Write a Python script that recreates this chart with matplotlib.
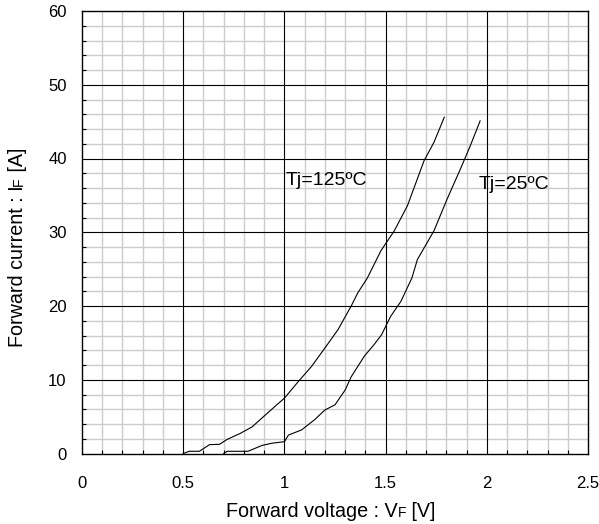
import matplotlib
matplotlib.use("Agg")
import matplotlib.pyplot as plt
from matplotlib.ticker import MultipleLocator, FixedLocator

plt.rcParams['font.family'] = ['Liberation Sans', 'DejaVu Sans']

# Data
v125 = [0.50, 0.53, 0.58, 0.63, 0.68, 0.716, 0.78, 0.84, 0.905, 0.954, 1.00,
        1.07, 1.134, 1.20, 1.265, 1.33, 1.363, 1.41, 1.477, 1.543, 1.608,
        1.69, 1.739, 1.79]
i125 = [0.0, 0.3, 0.3, 1.2, 1.25, 1.9, 2.7, 3.6, 5.2, 6.4, 7.5,
        9.8, 11.8, 14.3, 16.8, 20.0, 21.8, 23.8, 27.5, 30.2, 33.6,
        39.7, 42.2, 45.6]
v25 = [0.70, 0.717, 0.82, 0.89, 0.94, 1.00, 1.02, 1.085, 1.15, 1.20, 1.25,
       1.30, 1.33, 1.395, 1.444, 1.48, 1.525, 1.575, 1.63, 1.657, 1.739,
       1.804, 1.87, 1.918, 1.967]
i25 = [0.0, 0.3, 0.3, 1.1, 1.4, 1.6, 2.5, 3.2, 4.6, 5.9, 6.6,
       8.6, 10.4, 13.2, 14.8, 16.1, 18.6, 20.6, 23.8, 26.3, 30.2,
       34.5, 38.6, 41.7, 45.1]
xticks = [0, 0.5, 1, 1.5, 2, 2.5]
xticklabels = ["0", "0.5", "1", "1.5", "2", "2.5"]
yticks = [0, 10, 20, 30, 40, 50, 60]
yticklabels = ["0", "10", "20", "30", "40", "50", "60"]
labels = ["Tj=125ºC", "Tj=25ºC"]
label_pos = [(1.005, 36.4), (1.96, 35.9)]

fig = plt.figure(figsize=(5.99, 5.24), dpi=100)
ax = fig.add_axes([82/599, (524-453.5)/524, (588-82)/599, (453.5-11)/524])

ax.set_xlim(0, 2.5)
ax.set_ylim(0, 60)
ax.xaxis.set_major_locator(FixedLocator(xticks))
ax.yaxis.set_major_locator(FixedLocator(yticks))
ax.set_xticklabels(xticklabels)
ax.set_yticklabels(yticklabels)
ax.xaxis.set_minor_locator(MultipleLocator(0.1))
ax.yaxis.set_minor_locator(MultipleLocator(2))

# minor grid through the axis, major grid drawn on top
ax.grid(which='minor', color='#cccccc', linewidth=1.0)
ax.set_axisbelow(True)
for x in xticks[1:-1]:
    ax.axvline(x, color='black', linewidth=0.8, zorder=2)
for y in yticks[1:-1]:
    ax.axhline(y, color='black', linewidth=0.8, zorder=2)

ax.tick_params(which='both', direction='in', top=False, right=False,
               labelsize=12, colors='black')
ax.tick_params(axis='x', which='major', length=0, pad=16)
ax.tick_params(axis='y', which='major', length=0, pad=11)
ax.tick_params(which='minor', length=3, width=0.8)
for s in ax.spines.values():
    s.set_linewidth(1.0)
    s.set_color('black')
    s.set_zorder(5)

ax.plot(v125, i125, color='black', linewidth=0.8, zorder=4)
ax.plot(v25, i25, color='black', linewidth=0.8, zorder=4)

for lab, (x, y) in zip(labels, label_pos):
    ax.text(x, y, lab, fontsize=14, ha='left', va='baseline', zorder=6)

# Axis labels with small baseline-aligned "F"
fig.canvas.draw()
r = fig.canvas.get_renderer()

def compose(parts, x0, y0, rotation):
    texts = []
    for s, fs in parts:
        t = fig.text(0, 0, s, fontsize=fs, rotation=rotation,
                     rotation_mode='anchor', ha='left', va='baseline',
                     transform=None)
        texts.append(t)
    widths = []
    for t in texts:
        bb = t.get_window_extent(renderer=r)
        widths.append(bb.width if rotation == 0 else bb.height)
    total = sum(widths)
    pos = -total / 2
    for t, w in zip(texts, widths):
        if rotation == 0:
            t.set_position((x0 + pos, y0))
        else:
            t.set_position((x0, y0 + pos))
        pos += w

compose([("Forward voltage : V", 14.2), ("F", 10), (" [V]", 14.2)],
         331, 524 - 517, 0)
compose([("Forward current : I", 14.2), ("F", 10), (" [A]", 14.2)],
         23, 524 - 247.5, 90)

fig.savefig("out.png", dpi=100)
